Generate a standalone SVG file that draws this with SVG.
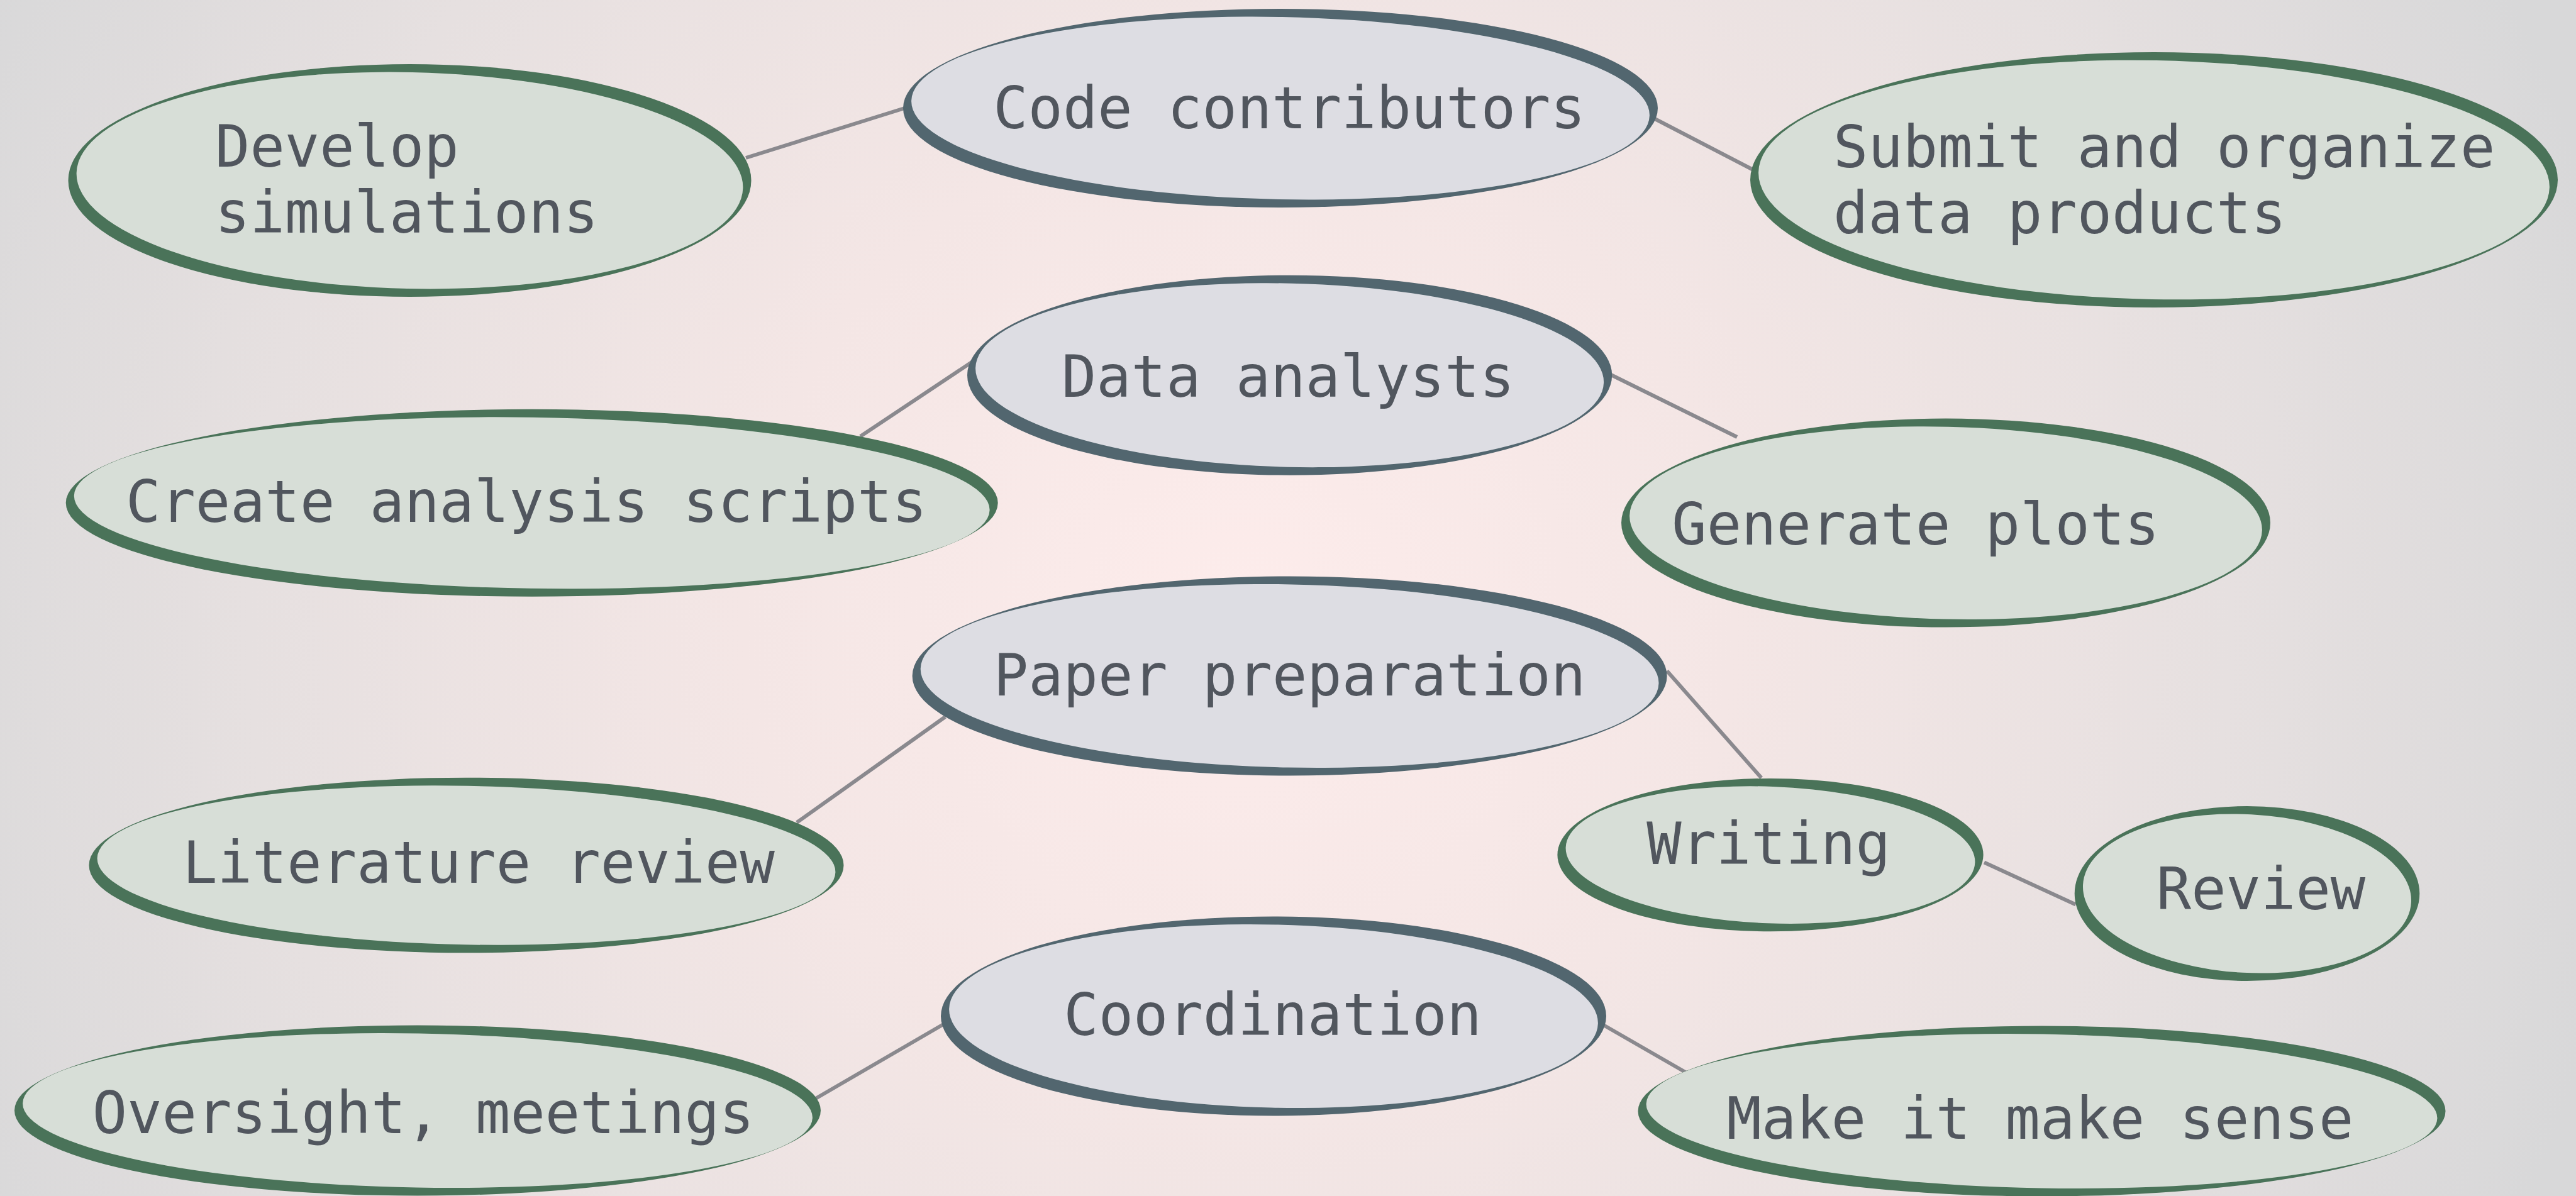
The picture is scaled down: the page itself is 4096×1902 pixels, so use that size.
<svg xmlns="http://www.w3.org/2000/svg" width="4096" height="1902" viewBox="0 0 4096 1902">
<defs>
<radialGradient id="bg" gradientUnits="userSpaceOnUse" cx="1970" cy="980" r="2250">
<stop offset="0" stop-color="#fdeceb"/>
<stop offset="0.35" stop-color="#f4e6e5"/>
<stop offset="0.7" stop-color="#e6e0e0"/>
<stop offset="1" stop-color="#d8d8d9"/>
</radialGradient>
<style>
.go{fill:#4a7359}
.gi{fill:#d7ded7}
.bo{fill:#52666f}
.bi{fill:#dddde3}
.lbl{font-family:"DejaVu Sans Mono","Liberation Mono",monospace;font-size:92px;fill:#51565e}
.mid{text-anchor:middle}
#connectors line{stroke:#8a898e;stroke-width:6;stroke-linecap:butt}
</style>
</defs>
<rect x="0" y="0" width="4096" height="1902" fill="url(#bg)"/>
<g id="connectors">
<line x1="1186" y1="251" x2="1440" y2="171.5"/>
<line x1="2627.5" y1="187" x2="2789.5" y2="271"/>
<line x1="1548" y1="574" x2="1368" y2="694"/>
<line x1="2561.5" y1="596" x2="2762" y2="695"/>
<line x1="1503" y1="1140" x2="1267" y2="1308"/>
<line x1="2650.6" y1="1067" x2="2800.7" y2="1237"/>
<line x1="3155" y1="1371.6" x2="3300.5" y2="1438.5"/>
<line x1="1500" y1="1629" x2="1290" y2="1751"/>
<line x1="2546" y1="1628" x2="2681.5" y2="1706"/>
</g>
<g id="code-contributors">
<ellipse class="bo" cx="2036" cy="172" rx="600" ry="158"/>
<ellipse class="bi" cx="2036" cy="172" rx="587" ry="145" transform="rotate(1.15 2036 172)"/>
<text class="lbl mid" x="2050" y="204">Code contributors</text>
</g>
<g id="develop-simulations">
<ellipse class="go" cx="651.5" cy="287" rx="543" ry="185"/>
<ellipse class="gi" cx="651.5" cy="287" rx="530" ry="172" transform="rotate(1.3 651.5 287)"/>
<text class="lbl" x="342" y="265">Develop</text>
<text class="lbl" x="342" y="370">simulations</text>
</g>
<g id="submit-data-products">
<ellipse class="go" cx="3425" cy="286" rx="642" ry="203"/>
<ellipse class="gi" cx="3425" cy="286" rx="629" ry="190" transform="rotate(1.1 3425 286)"/>
<text class="lbl" x="2915" y="266">Submit and organize</text>
<text class="lbl" x="2915" y="371">data products</text>
</g>
<g id="data-analysts">
<ellipse class="bo" cx="2050.6" cy="596.7" rx="512.6" ry="159"/>
<ellipse class="bi" cx="2050.6" cy="596.7" rx="499.6" ry="146" transform="rotate(1.35 2050.6 596.7)"/>
<text class="lbl mid" x="2048" y="631">Data analysts</text>
</g>
<g id="create-analysis-scripts">
<ellipse class="go" cx="845.7" cy="799.8" rx="741" ry="149"/>
<ellipse class="gi" cx="845.7" cy="799.8" rx="728" ry="136" transform="rotate(0.9 845.7 799.8)"/>
<text class="lbl mid" x="837" y="830">Create analysis scripts</text>
</g>
<g id="generate-plots">
<ellipse class="go" cx="3094" cy="831.6" rx="516" ry="166"/>
<ellipse class="gi" cx="3094" cy="831.6" rx="503" ry="153" transform="rotate(1.35 3094 831.6)"/>
<text class="lbl mid" x="3046" y="866">Generate plots</text>
</g>
<g id="paper-preparation">
<ellipse class="bo" cx="2050.6" cy="1075" rx="600" ry="158.6"/>
<ellipse class="bi" cx="2050.6" cy="1075" rx="587" ry="145.6" transform="rotate(1.15 2050.6 1075)"/>
<text class="lbl mid" x="2050.6" y="1106">Paper preparation</text>
</g>
<g id="literature-review">
<ellipse class="go" cx="741.5" cy="1376" rx="600" ry="139.3"/>
<ellipse class="gi" cx="741.5" cy="1376" rx="587" ry="126.3" transform="rotate(1.1 741.5 1376)"/>
<text class="lbl mid" x="761" y="1404">Literature review</text>
</g>
<g id="writing">
<ellipse class="go" cx="2815" cy="1359.6" rx="338.6" ry="121.7"/>
<ellipse class="gi" cx="2815" cy="1359.6" rx="325.6" ry="108.7" transform="rotate(2.15 2815 1359.6)"/>
<text class="lbl mid" x="2812" y="1374">Writing</text>
</g>
<g id="review">
<ellipse class="go" cx="3573" cy="1421" rx="274.3" ry="139"/>
<ellipse class="gi" cx="3573" cy="1421" rx="261.3" ry="126" transform="rotate(3.1 3573 1421)"/>
<text class="lbl mid" x="3595" y="1446">Review</text>
</g>
<g id="coordination">
<ellipse class="bo" cx="2025" cy="1616" rx="529" ry="158.6"/>
<ellipse class="bi" cx="2025" cy="1616" rx="516" ry="145.6" transform="rotate(1.3 2025 1616)"/>
<text class="lbl mid" x="2023.6" y="1646">Coordination</text>
</g>
<g id="oversight-meetings">
<ellipse class="go" cx="664" cy="1766" rx="641" ry="135.5"/>
<ellipse class="gi" cx="664" cy="1766" rx="628" ry="122.5" transform="rotate(1.05 664 1766)"/>
<text class="lbl mid" x="673" y="1802">Oversight, meetings</text>
</g>
<g id="make-it-make-sense">
<ellipse class="go" cx="3246.5" cy="1767" rx="642" ry="135.5"/>
<ellipse class="gi" cx="3246.5" cy="1767" rx="629" ry="122.5" transform="rotate(1.05 3246.5 1767)"/>
<text class="lbl mid" x="3244" y="1810.5">Make it make sense</text>
</g>
</svg>
